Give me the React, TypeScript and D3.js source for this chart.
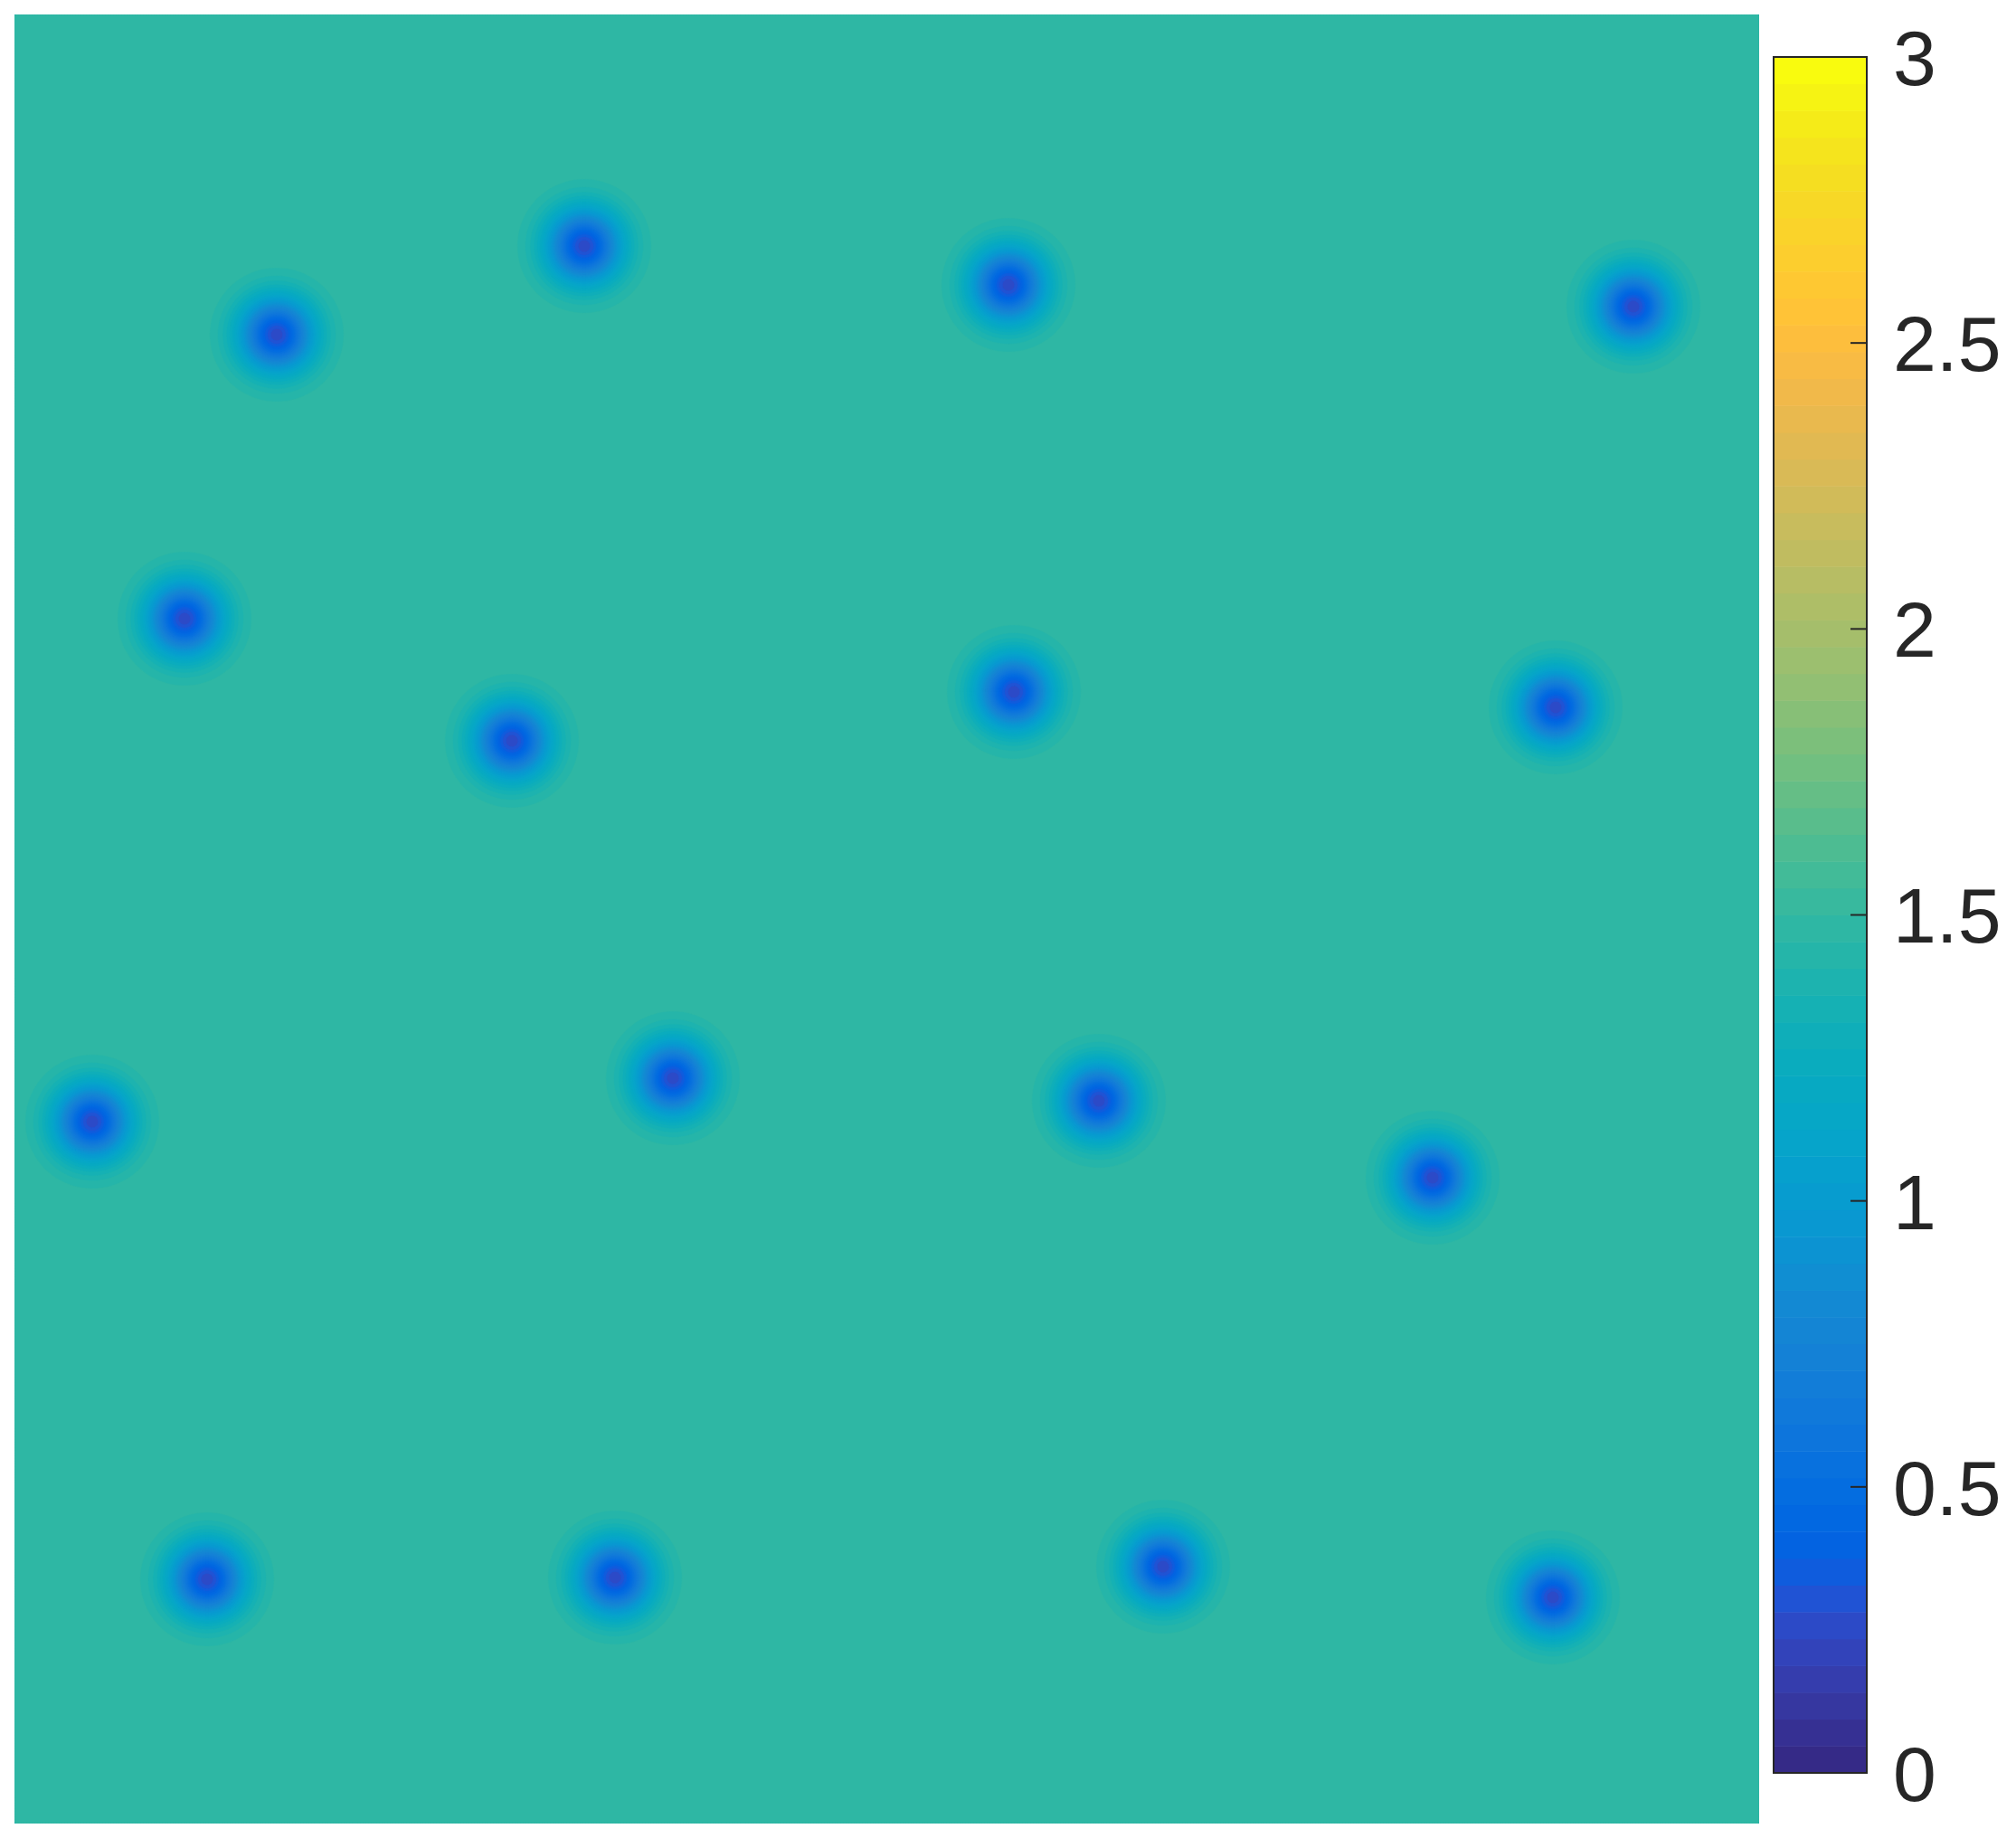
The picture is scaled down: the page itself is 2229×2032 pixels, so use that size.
import React, { useMemo } from "react";
import * as d3 from "d3";

// MATLAB parula(64)
const parula: number[][] = [
  [0.2081, 0.1663, 0.5292], [0.2116, 0.1898, 0.5777], [0.2123, 0.2138, 0.627], [0.2081, 0.2386, 0.6771],
  [0.1959, 0.2645, 0.7279], [0.1707, 0.2919, 0.7792], [0.1253, 0.3242, 0.8303], [0.0591, 0.3598, 0.8683],
  [0.0117, 0.3875, 0.882], [0.006, 0.4086, 0.8828], [0.0165, 0.4266, 0.8786], [0.0329, 0.443, 0.872],
  [0.0498, 0.4586, 0.8641], [0.0629, 0.4737, 0.8554], [0.0723, 0.4887, 0.8467], [0.0779, 0.504, 0.8384],
  [0.0793, 0.52, 0.8312], [0.0749, 0.5375, 0.8263], [0.0641, 0.557, 0.824], [0.0488, 0.5772, 0.8228],
  [0.0343, 0.5966, 0.8199], [0.0265, 0.6137, 0.8135], [0.0239, 0.6287, 0.8038], [0.0231, 0.6418, 0.7913],
  [0.0228, 0.6535, 0.7768], [0.0267, 0.6642, 0.7607], [0.0384, 0.6743, 0.7436], [0.059, 0.6838, 0.7254],
  [0.0843, 0.6928, 0.7062], [0.1133, 0.7015, 0.6859], [0.1453, 0.7098, 0.6646], [0.1801, 0.7177, 0.6424],
  [0.2178, 0.725, 0.6193], [0.2586, 0.7317, 0.5954], [0.3022, 0.7376, 0.5712], [0.3482, 0.7424, 0.5473],
  [0.3953, 0.7459, 0.5244], [0.442, 0.7481, 0.5033], [0.4871, 0.7491, 0.484], [0.53, 0.7491, 0.4661],
  [0.5709, 0.7485, 0.4494], [0.6099, 0.7473, 0.4337], [0.6473, 0.7456, 0.4188], [0.6834, 0.7435, 0.4044],
  [0.7184, 0.7411, 0.3905], [0.7525, 0.7384, 0.3768], [0.7858, 0.7356, 0.3633], [0.8185, 0.7327, 0.3498],
  [0.8507, 0.7299, 0.336], [0.8824, 0.7274, 0.3217], [0.9139, 0.7258, 0.3063], [0.945, 0.7261, 0.2886],
  [0.9739, 0.7314, 0.2666], [0.9938, 0.7455, 0.2403], [0.999, 0.7653, 0.2164], [0.9955, 0.7861, 0.1967],
  [0.988, 0.8066, 0.1794], [0.9789, 0.8271, 0.1633], [0.9697, 0.8481, 0.1475], [0.9626, 0.8705, 0.1309],
  [0.9589, 0.8949, 0.1132], [0.9598, 0.9218, 0.0948], [0.9661, 0.9514, 0.0755], [0.9763, 0.9831, 0.0538],
];

// Field domain (arbitrary units)
const xDomain = [0, 96.45];
const yDomain = [0, 100];

// Well (minimum) centres
const wellX = [14.5, 31.5, 54.95, 89.5, 9.4, 27.5, 55.25, 85.2, 4.3, 36.4, 59.95, 78.4, 10.65, 33.2, 63.5, 85.05];
const wellY = [17.7, 12.8, 14.95, 16.15, 33.4, 40.15, 37.45, 38.3, 61.2, 58.8, 60.05, 64.3, 86.5, 86.4, 85.8, 87.5];
const wellDepth = [1.25, 1.25, 1.25, 1.25, 1.25, 1.25, 1.25, 1.25, 1.25, 1.25, 1.25, 1.25, 1.25, 1.25, 1.25, 1.25];
const wellSigma = 1.42;
const baseLevel = 1.495;

const colorLimits = [0, 3];
const colorTicks = [0, 0.5, 1, 1.5, 2, 2.5, 3];
const colorTickLabels = ["0", "0.5", "1", "1.5", "2", "2.5", "3"];

const toRgb = (c: number[]) => `rgb(${Math.round(c[0] * 255)},${Math.round(c[1] * 255)},${Math.round(c[2] * 255)})`;

export default function App() {
  const W = 2229, H = 2032;
  const plot = { x0: 16, x1: 1945, y0: 16, y1: 2016 };
  const cb = { x0: 1961, x1: 2064, y0: 63, y1: 1960 };

  const xScale = d3.scaleLinear().domain(xDomain).range([plot.x0, plot.x1]);
  const yScale = d3.scaleLinear().domain(yDomain).range([plot.y0, plot.y1]);
  const cScale = d3.scaleLinear().domain(colorLimits).range([cb.y1, cb.y0]);

  const nx = 643, ny = 667;
  const paths = useMemo(() => {
    const vals = new Float64Array(nx * ny);
    const dx = (xDomain[1] - xDomain[0]) / nx;
    const dy = (yDomain[1] - yDomain[0]) / ny;
    const cut = 7 * wellSigma;
    for (let j = 0; j < ny; j++) {
      const y = yDomain[0] + (j + 0.5) * dy;
      for (let i = 0; i < nx; i++) {
        const x = xDomain[0] + (i + 0.5) * dx;
        let v = baseLevel;
        for (let k = 0; k < wellX.length; k++) {
          const ddx = x - wellX[k], ddy = y - wellY[k];
          if (Math.abs(ddx) > cut || Math.abs(ddy) > cut) continue;
          v -= wellDepth[k] * Math.exp(-(ddx * ddx + ddy * ddy) / (2 * wellSigma * wellSigma));
        }
        vals[j * nx + i] = v;
      }
    }
    const n = parula.length;
    const thresholds = d3.range(1, n).map((i) => colorLimits[0] + (i * (colorLimits[1] - colorLimits[0])) / n);
    const contours = d3.contours().size([nx, ny]).thresholds(thresholds)(Array.from(vals));
    const proj = d3.geoTransform({
      point(px: number, py: number) {
        // @ts-ignore
        this.stream.point(xScale(xDomain[0] + px * dx), yScale(yDomain[0] + py * dy));
      },
    });
    const path = d3.geoPath(proj);
    return contours
      .map((c, idx) => ({ d: path(c as any) || "", color: toRgb(parula[idx + 1]) }))
      .filter((p) => p.d.length > 0);
  }, []);

  const n = parula.length;
  const bandH = (colorLimits[1] - colorLimits[0]) / n;

  return (
    <svg width={W} height={H} style={{ position: "absolute", left: 0, top: 0, background: "#fff" }}>
      <defs>
        <clipPath id="plotclip">
          <rect x={plot.x0} y={plot.y0} width={plot.x1 - plot.x0} height={plot.y1 - plot.y0} />
        </clipPath>
      </defs>
      <g clipPath="url(#plotclip)">
        <rect x={plot.x0} y={plot.y0} width={plot.x1 - plot.x0} height={plot.y1 - plot.y0} fill={toRgb(parula[0])} />
        {paths.map((p, i) => (
          <path key={i} d={p.d} fill={p.color} stroke={p.color} strokeWidth={0.6} />
        ))}
      </g>
      <g>
        {parula.map((c, i) => {
          const v0 = colorLimits[0] + i * bandH;
          const yTop = cScale(v0 + bandH);
          const yBot = cScale(v0);
          return <rect key={i} x={cb.x0} y={yTop} width={cb.x1 - cb.x0} height={yBot - yTop + 0.5} fill={toRgb(c)} />;
        })}
        <rect x={cb.x0} y={cb.y0} width={cb.x1 - cb.x0} height={cb.y1 - cb.y0} fill="none" stroke="#262626" strokeWidth={2} />
        {colorTicks.map((t, i) => (
          <g key={i}>
            <line x1={cb.x1 - 18} x2={cb.x1} y1={cScale(t)} y2={cScale(t)} stroke="#262626" strokeWidth={2} />
            <text
              x={2093}
              y={cScale(t)}
              dy="0.36em"
              fontFamily="'Liberation Sans', Arial, sans-serif"
              fontSize={86}
              fill="#262626"
            >
              {colorTickLabels[i]}
            </text>
          </g>
        ))}
      </g>
    </svg>
  );
}
